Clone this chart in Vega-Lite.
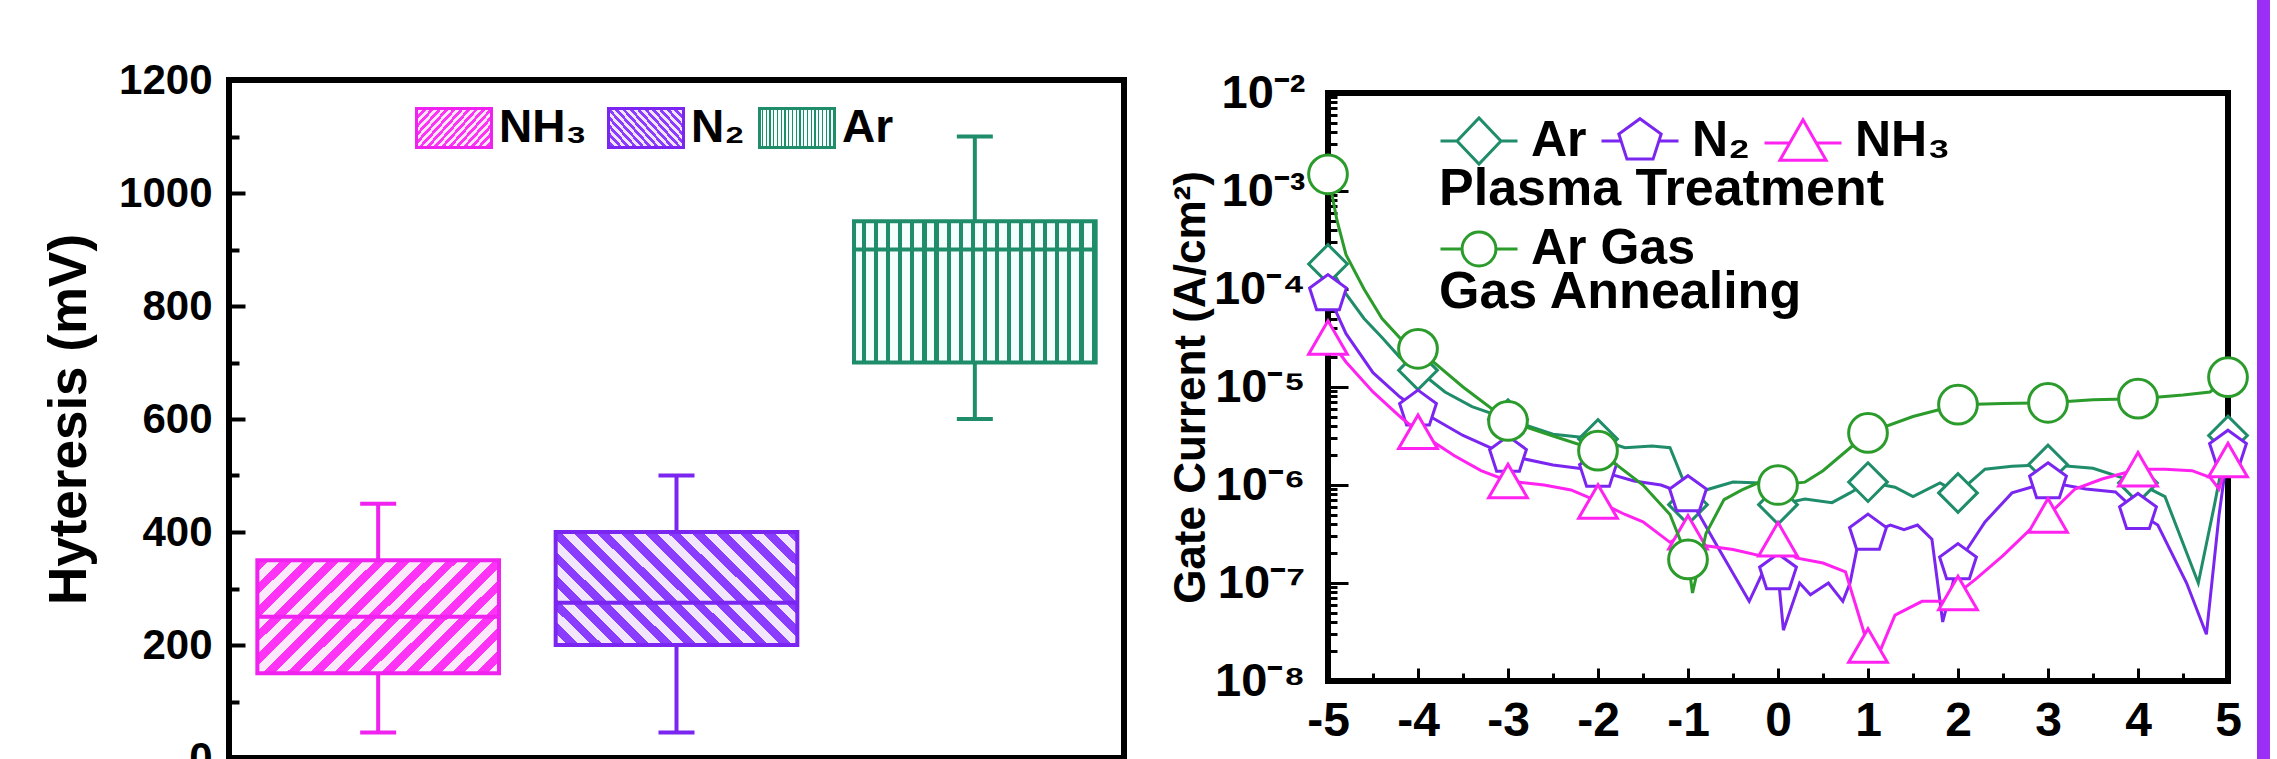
{
  "$schema": "https://vega.github.io/schema/vega-lite/v6.json",
  "padding": {"left": 40, "top": 0, "right": 0, "bottom": 0},
  "config": {
    "font": "Liberation Sans",
    "view": {"stroke": "black", "strokeWidth": 6},
    "axis": {"domain": false, "grid": false, "labelColor": "black", "titleColor": "black", "tickColor": "black", "labelFontWeight": "bold", "titleFontWeight": "bold"},
    "legend": {"labelColor": "black", "labelFontWeight": "bold", "titleColor": "black", "titleFontWeight": "bold", "labelLimit": 600, "titleLimit": 1000}
  },
  "datasets": {
    "boxes": [
      {"group": "NH3", "lo": 45, "q1": 150, "med": 250, "q3": 350, "hi": 450},
      {"group": "N2", "lo": 45, "q1": 200, "med": 275, "q3": 400, "hi": 500},
      {"group": "Ar", "lo": 600, "q1": 700, "med": 900, "q3": 950, "hi": 1100}
    ],
    "iv": [
      {"s": "Ar", "v": -5, "c": 1.8e-4}, {"s": "Ar", "v": -4.8, "c": 8.9e-5}, {"s": "Ar", "v": -4.6, "c": 5.0e-5}, {"s": "Ar", "v": -4.4, "c": 3.2e-5}, {"s": "Ar", "v": -4.2, "c": 2.0e-5}, {"s": "Ar", "v": -4, "c": 1.48e-5}, {"s": "Ar", "v": -3.7, "c": 8.9e-6}, {"s": "Ar", "v": -3.4, "c": 6.3e-6}, {"s": "Ar", "v": -3, "c": 4.7e-6}, {"s": "Ar", "v": -2.5, "c": 3.3e-6}, {"s": "Ar", "v": -2, "c": 2.95e-6}, {"s": "Ar", "v": -1.7, "c": 2.4e-6}, {"s": "Ar", "v": -1.4, "c": 2.5e-6}, {"s": "Ar", "v": -1.2, "c": 2.4e-6}, {"s": "Ar", "v": -1.05, "c": 1.1e-6}, {"s": "Ar", "v": -1, "c": 6.3e-7}, {"s": "Ar", "v": -0.8, "c": 8.9e-7}, {"s": "Ar", "v": -0.5, "c": 1.07e-6}, {"s": "Ar", "v": -0.2, "c": 1.05e-6}, {"s": "Ar", "v": 0, "c": 6.3e-7}, {"s": "Ar", "v": 0.3, "c": 7.2e-7}, {"s": "Ar", "v": 0.6, "c": 6.6e-7}, {"s": "Ar", "v": 0.8, "c": 8.3e-7}, {"s": "Ar", "v": 1, "c": 1.07e-6}, {"s": "Ar", "v": 1.3, "c": 9.5e-7}, {"s": "Ar", "v": 1.5, "c": 7.6e-7}, {"s": "Ar", "v": 1.8, "c": 1.05e-6}, {"s": "Ar", "v": 2, "c": 8.3e-7}, {"s": "Ar", "v": 2.3, "c": 1.45e-6}, {"s": "Ar", "v": 2.6, "c": 1.55e-6}, {"s": "Ar", "v": 3, "c": 1.62e-6}, {"s": "Ar", "v": 3.5, "c": 1.48e-6}, {"s": "Ar", "v": 4, "c": 1.05e-6}, {"s": "Ar", "v": 4.3, "c": 7.6e-7}, {"s": "Ar", "v": 4.67, "c": 1.0e-7}, {"s": "Ar", "v": 4.85, "c": 6.3e-7}, {"s": "Ar", "v": 5, "c": 3.2e-6},
      {"s": "N2", "v": -5, "c": 8.9e-5}, {"s": "N2", "v": -4.8, "c": 3.5e-5}, {"s": "N2", "v": -4.5, "c": 1.4e-5}, {"s": "N2", "v": -4.2, "c": 7.9e-6}, {"s": "N2", "v": -4, "c": 5.9e-6}, {"s": "N2", "v": -3.5, "c": 3.2e-6}, {"s": "N2", "v": -3, "c": 2.0e-6}, {"s": "N2", "v": -2.5, "c": 1.6e-6}, {"s": "N2", "v": -2, "c": 1.4e-6}, {"s": "N2", "v": -1.6, "c": 1.1e-6}, {"s": "N2", "v": -1.3, "c": 1.0e-6}, {"s": "N2", "v": -1, "c": 7.9e-7}, {"s": "N2", "v": -0.7, "c": 2.6e-7}, {"s": "N2", "v": -0.32, "c": 6.5e-8}, {"s": "N2", "v": -0.15, "c": 1.4e-7}, {"s": "N2", "v": 0, "c": 1.26e-7}, {"s": "N2", "v": 0.06, "c": 3.3e-8}, {"s": "N2", "v": 0.24, "c": 1.0e-7}, {"s": "N2", "v": 0.36, "c": 7.6e-8}, {"s": "N2", "v": 0.56, "c": 1.0e-7}, {"s": "N2", "v": 0.72, "c": 6.5e-8}, {"s": "N2", "v": 0.8, "c": 1.0e-7}, {"s": "N2", "v": 0.92, "c": 3.5e-7}, {"s": "N2", "v": 1, "c": 3.2e-7}, {"s": "N2", "v": 1.25, "c": 3.9e-7}, {"s": "N2", "v": 1.4, "c": 3.5e-7}, {"s": "N2", "v": 1.55, "c": 3.9e-7}, {"s": "N2", "v": 1.71, "c": 2.8e-7}, {"s": "N2", "v": 1.83, "c": 4.0e-8}, {"s": "N2", "v": 2, "c": 1.6e-7}, {"s": "N2", "v": 2.3, "c": 4.2e-7}, {"s": "N2", "v": 2.6, "c": 8.3e-7}, {"s": "N2", "v": 3, "c": 1.07e-6}, {"s": "N2", "v": 3.42, "c": 9.1e-7}, {"s": "N2", "v": 3.75, "c": 8.5e-7}, {"s": "N2", "v": 4, "c": 5.2e-7}, {"s": "N2", "v": 4.22, "c": 3.9e-7}, {"s": "N2", "v": 4.54, "c": 1.0e-7}, {"s": "N2", "v": 4.76, "c": 3.0e-8}, {"s": "N2", "v": 4.9, "c": 4.9e-7}, {"s": "N2", "v": 5, "c": 2.3e-6},
      {"s": "NH3", "v": -5, "c": 3.2e-5}, {"s": "NH3", "v": -4.8, "c": 1.8e-5}, {"s": "NH3", "v": -4.5, "c": 8.9e-6}, {"s": "NH3", "v": -4.2, "c": 5.0e-6}, {"s": "NH3", "v": -4, "c": 3.5e-6}, {"s": "NH3", "v": -3.6, "c": 2.0e-6}, {"s": "NH3", "v": -3.3, "c": 1.4e-6}, {"s": "NH3", "v": -3, "c": 1.1e-6}, {"s": "NH3", "v": -2.6, "c": 1.0e-6}, {"s": "NH3", "v": -2.3, "c": 8.9e-7}, {"s": "NH3", "v": -2, "c": 6.8e-7}, {"s": "NH3", "v": -1.7, "c": 5.0e-7}, {"s": "NH3", "v": -1.5, "c": 4.2e-7}, {"s": "NH3", "v": -1.2, "c": 2.6e-7}, {"s": "NH3", "v": -1, "c": 3.3e-7}, {"s": "NH3", "v": -0.8, "c": 2.4e-7}, {"s": "NH3", "v": -0.5, "c": 2.2e-7}, {"s": "NH3", "v": -0.2, "c": 1.9e-7}, {"s": "NH3", "v": 0, "c": 2.8e-7}, {"s": "NH3", "v": 0.2, "c": 1.8e-7}, {"s": "NH3", "v": 0.5, "c": 1.6e-7}, {"s": "NH3", "v": 0.75, "c": 1.3e-7}, {"s": "NH3", "v": 1, "c": 2.3e-8}, {"s": "NH3", "v": 1.1, "c": 1.7e-8}, {"s": "NH3", "v": 1.3, "c": 4.7e-8}, {"s": "NH3", "v": 1.6, "c": 6.5e-8}, {"s": "NH3", "v": 1.9, "c": 6.5e-8}, {"s": "NH3", "v": 2, "c": 7.9e-8}, {"s": "NH3", "v": 2.2, "c": 1.1e-7}, {"s": "NH3", "v": 2.5, "c": 1.9e-7}, {"s": "NH3", "v": 2.8, "c": 3.5e-7}, {"s": "NH3", "v": 3, "c": 4.9e-7}, {"s": "NH3", "v": 3.3, "c": 9.1e-7}, {"s": "NH3", "v": 3.6, "c": 1.15e-6}, {"s": "NH3", "v": 4, "c": 1.45e-6}, {"s": "NH3", "v": 4.3, "c": 1.45e-6}, {"s": "NH3", "v": 4.6, "c": 1.4e-6}, {"s": "NH3", "v": 4.8, "c": 1.2e-6}, {"s": "NH3", "v": 4.9, "c": 9.1e-7}, {"s": "NH3", "v": 5, "c": 1.8e-6},
      {"s": "Ar Gas", "v": -5, "c": 1.48e-3}, {"s": "Ar Gas", "v": -4.9, "c": 5.0e-4}, {"s": "Ar Gas", "v": -4.8, "c": 2.24e-4}, {"s": "Ar Gas", "v": -4.6, "c": 1.0e-4}, {"s": "Ar Gas", "v": -4.4, "c": 5.0e-5}, {"s": "Ar Gas", "v": -4.2, "c": 3.16e-5}, {"s": "Ar Gas", "v": -4, "c": 2.45e-5}, {"s": "Ar Gas", "v": -3.5, "c": 1.0e-5}, {"s": "Ar Gas", "v": -3, "c": 4.5e-6}, {"s": "Ar Gas", "v": -2.5, "c": 3.16e-6}, {"s": "Ar Gas", "v": -2, "c": 2.24e-6}, {"s": "Ar Gas", "v": -1.5, "c": 1.0e-6}, {"s": "Ar Gas", "v": -1.2, "c": 5.0e-7}, {"s": "Ar Gas", "v": -1, "c": 1.74e-7}, {"s": "Ar Gas", "v": -0.95, "c": 7.9e-8}, {"s": "Ar Gas", "v": -0.8, "c": 3.2e-7}, {"s": "Ar Gas", "v": -0.6, "c": 7.1e-7}, {"s": "Ar Gas", "v": -0.4, "c": 8.9e-7}, {"s": "Ar Gas", "v": -0.2, "c": 1.07e-6}, {"s": "Ar Gas", "v": 0, "c": 1.0e-6}, {"s": "Ar Gas", "v": 0.3, "c": 1.07e-6}, {"s": "Ar Gas", "v": 0.5, "c": 1.4e-6}, {"s": "Ar Gas", "v": 0.7, "c": 2.0e-6}, {"s": "Ar Gas", "v": 1, "c": 3.4e-6}, {"s": "Ar Gas", "v": 1.5, "c": 5.0e-6}, {"s": "Ar Gas", "v": 2, "c": 6.6e-6}, {"s": "Ar Gas", "v": 2.5, "c": 6.8e-6}, {"s": "Ar Gas", "v": 3, "c": 6.9e-6}, {"s": "Ar Gas", "v": 3.5, "c": 7.4e-6}, {"s": "Ar Gas", "v": 4, "c": 7.6e-6}, {"s": "Ar Gas", "v": 4.5, "c": 8.3e-6}, {"s": "Ar Gas", "v": 4.8, "c": 8.9e-6}, {"s": "Ar Gas", "v": 5, "c": 1.26e-5}
    ]
  },
  "spacing": 0,
  "hconcat": [
    {
      "spacing": 39,
      "hconcat": [
        {
          "spacing": 55,
          "vconcat": [
            {"width": 1, "height": 1, "view": {"stroke": null}, "data": {"values": [{"k": 1}]}, "mark": {"type": "rect", "opacity": 0}, "encoding": {}},
            {
              "width": 895,
              "height": 678,
              "data": {"name": "boxes"},
              "encoding": {
                "x": {"field": "group", "type": "nominal", "scale": {"domain": ["NH3", "N2", "Ar"], "paddingInner": 0, "paddingOuter": 0}, "axis": null}
              },
              "layer": [
                {
                  "mark": {"type": "rule", "strokeWidth": 4},
                  "encoding": {
                    "y": {"field": "lo", "type": "quantitative", "scale": {"domain": [0, 1200], "nice": false},
                      "axis": {
                        "values": [0, 100, 200, 300, 400, 500, 600, 700, 800, 900, 1000, 1100, 1200],
                        "labelExpr": "datum.value % 200 == 0 ? datum.label : ''",
                        "format": "d",
                        "tickSize": {"condition": {"test": "datum.value % 200 == 0", "value": -16}, "value": -10},
                        "tickWidth": 4,
                        "labelPadding": 33,
                        "labelFontSize": 42,
                        "labelOverlap": false,
                        "title": "Hyteresis  (mV)",
                        "titleFontSize": 53,
                        "titlePadding": 22
                      }},
                    "y2": {"field": "hi"},
                    "color": {"field": "group", "type": "nominal", "scale": {"domain": ["NH3", "N2", "Ar"], "range": ["#f022f0", "#7a26f0", "#1f8c6a"]}, "legend": null}
                  }
                },
                {
                  "transform": [{"filter": "datum.group == 'NH3'"}],
                  "mark": {"type": "bar", "width": {"band": 0.81}, "strokeWidth": 4,
                    "fill": {"gradient": "linear", "x1": 0, "y1": 0, "x2": 1.204, "y2": 0.567, "stops": [
                      {"offset": 0, "color": "#ff33f5"}, {"offset": 0.0333, "color": "#ff33f5"}, {"offset": 0.0333, "color": "#fbe8fb"}, {"offset": 0.0667, "color": "#fbe8fb"},
                      {"offset": 0.0667, "color": "#ff33f5"}, {"offset": 0.1, "color": "#ff33f5"}, {"offset": 0.1, "color": "#fbe8fb"}, {"offset": 0.1333, "color": "#fbe8fb"},
                      {"offset": 0.1333, "color": "#ff33f5"}, {"offset": 0.1667, "color": "#ff33f5"}, {"offset": 0.1667, "color": "#fbe8fb"}, {"offset": 0.2, "color": "#fbe8fb"},
                      {"offset": 0.2, "color": "#ff33f5"}, {"offset": 0.2333, "color": "#ff33f5"}, {"offset": 0.2333, "color": "#fbe8fb"}, {"offset": 0.2667, "color": "#fbe8fb"},
                      {"offset": 0.2667, "color": "#ff33f5"}, {"offset": 0.3, "color": "#ff33f5"}, {"offset": 0.3, "color": "#fbe8fb"}, {"offset": 0.3333, "color": "#fbe8fb"},
                      {"offset": 0.3333, "color": "#ff33f5"}, {"offset": 0.3667, "color": "#ff33f5"}, {"offset": 0.3667, "color": "#fbe8fb"}, {"offset": 0.4, "color": "#fbe8fb"},
                      {"offset": 0.4, "color": "#ff33f5"}, {"offset": 0.4333, "color": "#ff33f5"}, {"offset": 0.4333, "color": "#fbe8fb"}, {"offset": 0.4667, "color": "#fbe8fb"},
                      {"offset": 0.4667, "color": "#ff33f5"}, {"offset": 0.5, "color": "#ff33f5"}, {"offset": 0.5, "color": "#fbe8fb"}, {"offset": 0.5333, "color": "#fbe8fb"},
                      {"offset": 0.5333, "color": "#ff33f5"}, {"offset": 0.5667, "color": "#ff33f5"}, {"offset": 0.5667, "color": "#fbe8fb"}, {"offset": 0.6, "color": "#fbe8fb"},
                      {"offset": 0.6, "color": "#ff33f5"}, {"offset": 0.6333, "color": "#ff33f5"}, {"offset": 0.6333, "color": "#fbe8fb"}, {"offset": 0.6667, "color": "#fbe8fb"},
                      {"offset": 0.6667, "color": "#ff33f5"}, {"offset": 0.7, "color": "#ff33f5"}, {"offset": 0.7, "color": "#fbe8fb"}, {"offset": 0.7333, "color": "#fbe8fb"},
                      {"offset": 0.7333, "color": "#ff33f5"}, {"offset": 0.7667, "color": "#ff33f5"}, {"offset": 0.7667, "color": "#fbe8fb"}, {"offset": 0.8, "color": "#fbe8fb"},
                      {"offset": 0.8, "color": "#ff33f5"}, {"offset": 0.8333, "color": "#ff33f5"}, {"offset": 0.8333, "color": "#fbe8fb"}, {"offset": 0.8667, "color": "#fbe8fb"},
                      {"offset": 0.8667, "color": "#ff33f5"}, {"offset": 0.9, "color": "#ff33f5"}, {"offset": 0.9, "color": "#fbe8fb"}, {"offset": 0.9333, "color": "#fbe8fb"},
                      {"offset": 0.9333, "color": "#ff33f5"}, {"offset": 0.9667, "color": "#ff33f5"}, {"offset": 0.9667, "color": "#fbe8fb"}, {"offset": 1, "color": "#fbe8fb"}
                    ]}},
                  "encoding": {
                    "y": {"field": "q1", "type": "quantitative"},
                    "y2": {"field": "q3"},
                    "stroke": {"field": "group", "type": "nominal", "scale": {"domain": ["NH3"], "range": ["#f022f0"]},
                      "legend": {"orient": "none", "legendX": 186, "legendY": 9, "title": null,
                        "symbolType": "M-1,-0.52H1V0.52H-1Z", "symbolSize": 5625, "symbolStrokeWidth": 3, "symbolOpacity": 1,
                        "labelFontSize": 46, "labelOffset": 6,
                        "labelExpr": "'NH₃'"}}
                  }
                },
                {
                  "transform": [{"filter": "datum.group == 'N2'"}],
                  "mark": {"type": "bar", "width": {"band": 0.81}, "strokeWidth": 4,
                    "fill": {"gradient": "linear", "x1": 1, "y1": 0, "x2": -0.204, "y2": 0.567, "stops": [
                      {"offset": 0, "color": "#8a3cff"}, {"offset": 0.0333, "color": "#8a3cff"}, {"offset": 0.0333, "color": "#f1e6fb"}, {"offset": 0.0667, "color": "#f1e6fb"},
                      {"offset": 0.0667, "color": "#8a3cff"}, {"offset": 0.1, "color": "#8a3cff"}, {"offset": 0.1, "color": "#f1e6fb"}, {"offset": 0.1333, "color": "#f1e6fb"},
                      {"offset": 0.1333, "color": "#8a3cff"}, {"offset": 0.1667, "color": "#8a3cff"}, {"offset": 0.1667, "color": "#f1e6fb"}, {"offset": 0.2, "color": "#f1e6fb"},
                      {"offset": 0.2, "color": "#8a3cff"}, {"offset": 0.2333, "color": "#8a3cff"}, {"offset": 0.2333, "color": "#f1e6fb"}, {"offset": 0.2667, "color": "#f1e6fb"},
                      {"offset": 0.2667, "color": "#8a3cff"}, {"offset": 0.3, "color": "#8a3cff"}, {"offset": 0.3, "color": "#f1e6fb"}, {"offset": 0.3333, "color": "#f1e6fb"},
                      {"offset": 0.3333, "color": "#8a3cff"}, {"offset": 0.3667, "color": "#8a3cff"}, {"offset": 0.3667, "color": "#f1e6fb"}, {"offset": 0.4, "color": "#f1e6fb"},
                      {"offset": 0.4, "color": "#8a3cff"}, {"offset": 0.4333, "color": "#8a3cff"}, {"offset": 0.4333, "color": "#f1e6fb"}, {"offset": 0.4667, "color": "#f1e6fb"},
                      {"offset": 0.4667, "color": "#8a3cff"}, {"offset": 0.5, "color": "#8a3cff"}, {"offset": 0.5, "color": "#f1e6fb"}, {"offset": 0.5333, "color": "#f1e6fb"},
                      {"offset": 0.5333, "color": "#8a3cff"}, {"offset": 0.5667, "color": "#8a3cff"}, {"offset": 0.5667, "color": "#f1e6fb"}, {"offset": 0.6, "color": "#f1e6fb"},
                      {"offset": 0.6, "color": "#8a3cff"}, {"offset": 0.6333, "color": "#8a3cff"}, {"offset": 0.6333, "color": "#f1e6fb"}, {"offset": 0.6667, "color": "#f1e6fb"},
                      {"offset": 0.6667, "color": "#8a3cff"}, {"offset": 0.7, "color": "#8a3cff"}, {"offset": 0.7, "color": "#f1e6fb"}, {"offset": 0.7333, "color": "#f1e6fb"},
                      {"offset": 0.7333, "color": "#8a3cff"}, {"offset": 0.7667, "color": "#8a3cff"}, {"offset": 0.7667, "color": "#f1e6fb"}, {"offset": 0.8, "color": "#f1e6fb"},
                      {"offset": 0.8, "color": "#8a3cff"}, {"offset": 0.8333, "color": "#8a3cff"}, {"offset": 0.8333, "color": "#f1e6fb"}, {"offset": 0.8667, "color": "#f1e6fb"},
                      {"offset": 0.8667, "color": "#8a3cff"}, {"offset": 0.9, "color": "#8a3cff"}, {"offset": 0.9, "color": "#f1e6fb"}, {"offset": 0.9333, "color": "#f1e6fb"},
                      {"offset": 0.9333, "color": "#8a3cff"}, {"offset": 0.9667, "color": "#8a3cff"}, {"offset": 0.9667, "color": "#f1e6fb"}, {"offset": 1, "color": "#f1e6fb"}
                    ]}},
                  "encoding": {
                    "y": {"field": "q1", "type": "quantitative"},
                    "y2": {"field": "q3"},
                    "stroke": {"field": "group", "type": "nominal", "scale": {"domain": ["N2"], "range": ["#7a26f0"]},
                      "legend": {"orient": "none", "legendX": 378, "legendY": 9, "title": null,
                        "symbolType": "M-1,-0.52H1V0.52H-1Z", "symbolSize": 5625, "symbolStrokeWidth": 3, "symbolOpacity": 1,
                        "labelFontSize": 46, "labelOffset": 6,
                        "labelExpr": "'N₂'"}}
                  }
                },
                {
                  "transform": [{"filter": "datum.group == 'Ar'"}],
                  "mark": {"type": "bar", "width": {"band": 0.81}, "strokeWidth": 4,
                    "fill": {"gradient": "linear", "x1": 0, "y1": 0, "x2": 1, "y2": 0, "stops": [
                      {"offset": 0, "color": "#f4fffb"}, {"offset": 0.033, "color": "#f4fffb"}, {"offset": 0.033, "color": "#1f8c6a"}, {"offset": 0.05, "color": "#1f8c6a"},
                      {"offset": 0.05, "color": "#f4fffb"}, {"offset": 0.083, "color": "#f4fffb"}, {"offset": 0.083, "color": "#1f8c6a"}, {"offset": 0.1, "color": "#1f8c6a"},
                      {"offset": 0.1, "color": "#f4fffb"}, {"offset": 0.133, "color": "#f4fffb"}, {"offset": 0.133, "color": "#1f8c6a"}, {"offset": 0.15, "color": "#1f8c6a"},
                      {"offset": 0.15, "color": "#f4fffb"}, {"offset": 0.183, "color": "#f4fffb"}, {"offset": 0.183, "color": "#1f8c6a"}, {"offset": 0.2, "color": "#1f8c6a"},
                      {"offset": 0.2, "color": "#f4fffb"}, {"offset": 0.233, "color": "#f4fffb"}, {"offset": 0.233, "color": "#1f8c6a"}, {"offset": 0.25, "color": "#1f8c6a"},
                      {"offset": 0.25, "color": "#f4fffb"}, {"offset": 0.283, "color": "#f4fffb"}, {"offset": 0.283, "color": "#1f8c6a"}, {"offset": 0.3, "color": "#1f8c6a"},
                      {"offset": 0.3, "color": "#f4fffb"}, {"offset": 0.333, "color": "#f4fffb"}, {"offset": 0.333, "color": "#1f8c6a"}, {"offset": 0.35, "color": "#1f8c6a"},
                      {"offset": 0.35, "color": "#f4fffb"}, {"offset": 0.383, "color": "#f4fffb"}, {"offset": 0.383, "color": "#1f8c6a"}, {"offset": 0.4, "color": "#1f8c6a"},
                      {"offset": 0.4, "color": "#f4fffb"}, {"offset": 0.433, "color": "#f4fffb"}, {"offset": 0.433, "color": "#1f8c6a"}, {"offset": 0.45, "color": "#1f8c6a"},
                      {"offset": 0.45, "color": "#f4fffb"}, {"offset": 0.483, "color": "#f4fffb"}, {"offset": 0.483, "color": "#1f8c6a"}, {"offset": 0.5, "color": "#1f8c6a"},
                      {"offset": 0.5, "color": "#f4fffb"}, {"offset": 0.533, "color": "#f4fffb"}, {"offset": 0.533, "color": "#1f8c6a"}, {"offset": 0.55, "color": "#1f8c6a"},
                      {"offset": 0.55, "color": "#f4fffb"}, {"offset": 0.583, "color": "#f4fffb"}, {"offset": 0.583, "color": "#1f8c6a"}, {"offset": 0.6, "color": "#1f8c6a"},
                      {"offset": 0.6, "color": "#f4fffb"}, {"offset": 0.633, "color": "#f4fffb"}, {"offset": 0.633, "color": "#1f8c6a"}, {"offset": 0.65, "color": "#1f8c6a"},
                      {"offset": 0.65, "color": "#f4fffb"}, {"offset": 0.683, "color": "#f4fffb"}, {"offset": 0.683, "color": "#1f8c6a"}, {"offset": 0.7, "color": "#1f8c6a"},
                      {"offset": 0.7, "color": "#f4fffb"}, {"offset": 0.733, "color": "#f4fffb"}, {"offset": 0.733, "color": "#1f8c6a"}, {"offset": 0.75, "color": "#1f8c6a"},
                      {"offset": 0.75, "color": "#f4fffb"}, {"offset": 0.783, "color": "#f4fffb"}, {"offset": 0.783, "color": "#1f8c6a"}, {"offset": 0.8, "color": "#1f8c6a"},
                      {"offset": 0.8, "color": "#f4fffb"}, {"offset": 0.833, "color": "#f4fffb"}, {"offset": 0.833, "color": "#1f8c6a"}, {"offset": 0.85, "color": "#1f8c6a"},
                      {"offset": 0.85, "color": "#f4fffb"}, {"offset": 0.883, "color": "#f4fffb"}, {"offset": 0.883, "color": "#1f8c6a"}, {"offset": 0.9, "color": "#1f8c6a"},
                      {"offset": 0.9, "color": "#f4fffb"}, {"offset": 0.933, "color": "#f4fffb"}, {"offset": 0.933, "color": "#1f8c6a"}, {"offset": 0.95, "color": "#1f8c6a"},
                      {"offset": 0.95, "color": "#f4fffb"}, {"offset": 0.983, "color": "#f4fffb"}, {"offset": 0.983, "color": "#1f8c6a"}, {"offset": 1, "color": "#1f8c6a"}
                    ]}},
                  "encoding": {
                    "y": {"field": "q1", "type": "quantitative"},
                    "y2": {"field": "q3"},
                    "stroke": {"field": "group", "type": "nominal", "scale": {"domain": ["Ar"], "range": ["#1f8c6a"]},
                      "legend": {"orient": "none", "legendX": 529, "legendY": 9, "title": null,
                        "symbolType": "M-1,-0.52H1V0.52H-1Z", "symbolSize": 5625, "symbolStrokeWidth": 3, "symbolOpacity": 1,
                        "labelFontSize": 46, "labelOffset": 6}}
                  }
                },
                {
                  "mark": {"type": "tick", "size": 241, "thickness": 4, "opacity": 1},
                  "encoding": {
                    "y": {"field": "med", "type": "quantitative"},
                    "color": {"field": "group", "type": "nominal", "scale": {"domain": ["NH3", "N2", "Ar"], "range": ["#f022f0", "#7a26f0", "#1f8c6a"]}, "legend": null}
                  }
                },
                {
                  "mark": {"type": "tick", "size": 36, "thickness": 4, "opacity": 1},
                  "encoding": {
                    "y": {"field": "hi", "type": "quantitative"},
                    "color": {"field": "group", "type": "nominal", "scale": {"domain": ["NH3", "N2", "Ar"], "range": ["#f022f0", "#7a26f0", "#1f8c6a"]}, "legend": null}
                  }
                },
                {
                  "mark": {"type": "tick", "size": 36, "thickness": 4, "opacity": 1},
                  "encoding": {
                    "y": {"field": "lo", "type": "quantitative"},
                    "color": {"field": "group", "type": "nominal", "scale": {"domain": ["NH3", "N2", "Ar"], "range": ["#f022f0", "#7a26f0", "#1f8c6a"]}, "legend": null}
                  }
                }
              ],
              "resolve": {"scale": {"stroke": "independent"}}
            }
          ]
        },
        {
          "spacing": 65,
          "vconcat": [
            {"width": 1, "height": 1, "view": {"stroke": null}, "data": {"values": [{"k": 1}]}, "mark": {"type": "rect", "opacity": 0}, "encoding": {}},
            {
              "width": 900,
              "height": 588,
              "data": {"name": "iv"},
              "encoding": {
                "x": {"field": "v", "type": "quantitative", "scale": {"domain": [-5, 5], "nice": false},
                  "axis": {
                    "values": [-5, -4.5, -4, -3.5, -3, -2.5, -2, -1.5, -1, -0.5, 0, 0.5, 1, 1.5, 2, 2.5, 3, 3.5, 4, 4.5, 5],
                    "labelExpr": "datum.value == round(datum.value) ? (datum.value < 0 ? '-' + abs(datum.value) : '' + datum.value) : ''",
                    "tickSize": {"condition": {"test": "datum.value == round(datum.value)", "value": -13}, "value": -8},
                    "tickWidth": 3,
                    "labelPadding": 29,
                    "labelFontSize": 48,
                    "labelFlush": false,
                    "labelOverlap": false,
                    "title": "Gate Voltage (V)",
                    "titleFontSize": 46,
                    "titlePadding": 10
                  }},
                "y": {"field": "c", "type": "quantitative", "scale": {"type": "log", "domain": [1e-8, 1e-2], "nice": false},
                  "axis": {
                    "values": [1e-8, 2e-8, 3e-8, 4e-8, 5e-8, 6e-8, 7e-8, 8e-8, 9e-8, 1e-7, 2e-7, 3e-7, 4e-7, 5e-7, 6e-7, 7e-7, 8e-7, 9e-7, 1e-6, 2e-6, 3e-6, 4e-6, 5e-6, 6e-6, 7e-6, 8e-6, 9e-6, 1e-5, 2e-5, 3e-5, 4e-5, 5e-5, 6e-5, 7e-5, 8e-5, 9e-5, 1e-4, 2e-4, 3e-4, 4e-4, 5e-4, 6e-4, 7e-4, 8e-4, 9e-4, 1e-3, 2e-3, 3e-3, 4e-3, 5e-3, 6e-3, 7e-3, 8e-3, 9e-3, 1e-2],
                    "labelExpr": "abs(log(datum.value)/LN10 - round(log(datum.value)/LN10)) > 0.01 ? '' : '10⁻' + ['⁰','¹','²','³','⁴','⁵','⁶','⁷','⁸','⁹'][-round(log(datum.value)/LN10)]",
                    "tickSize": {"condition": {"test": "abs(log(datum.value)/LN10 - round(log(datum.value)/LN10)) < 0.01", "value": -20}, "value": -9},
                    "tickWidth": 3,
                    "labelPadding": 43,
                    "labelFontSize": 47,
                    "labelOverlap": false,
                    "labelBound": false,
                    "title": "Gate Current (A/cm²)",
                    "titleFontSize": 44,
                    "titlePadding": 0
                  }}
              },
              "layer": [
                {
                  "transform": [{"filter": "datum.s == 'Ar'"}],
                  "layer": [
                    {
                      "mark": {"type": "line", "strokeWidth": 3},
                      "encoding": {
                        "color": {"field": "s", "type": "nominal", "scale": {"domain": ["Ar"], "range": ["#1f8c6a"]},
                          "legend": {"orient": "none", "legendX": 111, "legendY": 8,
                            "title": "Plasma Treatment", "titleOrient": "bottom", "titleAnchor": "start", "titleAlign": "left", "titleFontSize": 52, "titlePadding": -6,
                            "labelFontSize": 50, "labelOffset": 12,
                            "symbolType": "M-1,0H-0.57M0.57,0H1M-0.57,0L0,-0.6L0.57,0L0,0.6Z", "symbolSize": 5929, "symbolStrokeWidth": 3, "symbolFillColor": "white", "symbolOpacity": 1}}
                      }
                    },
                    {
                      "transform": [{"filter": "datum.v == round(datum.v)"}],
                      "mark": {"type": "point", "shape": "diamond", "filled": false, "fill": "white", "strokeWidth": 3, "size": 1500, "opacity": 1},
                      "encoding": {"color": {"field": "s", "type": "nominal", "scale": {"domain": ["Ar"], "range": ["#1f8c6a"]}}}
                    }
                  ]
                },
                {
                  "transform": [{"filter": "datum.s == 'N2'"}],
                  "layer": [
                    {
                      "mark": {"type": "line", "strokeWidth": 3},
                      "encoding": {
                        "color": {"field": "s", "type": "nominal", "scale": {"domain": ["N2"], "range": ["#7a26f0"]},
                          "legend": {"orient": "none", "legendX": 272, "legendY": 8, "title": null,
                            "labelFontSize": 50, "labelOffset": 12, "labelExpr": "'N₂'",
                            "symbolType": "M-1,0H-0.5M0.5,0H1M0,-0.58L0.55,-0.18L0.34,0.47L-0.34,0.47L-0.55,-0.18Z", "symbolSize": 5929, "symbolStrokeWidth": 3, "symbolFillColor": "white", "symbolOpacity": 1}}
                      }
                    },
                    {
                      "transform": [{"filter": "datum.v == round(datum.v)"}],
                      "mark": {"type": "point", "shape": "M0,-1L0.951,-0.309L0.588,0.809L-0.588,0.809L-0.951,-0.309Z", "filled": false, "fill": "white", "strokeWidth": 3, "size": 1500, "opacity": 1},
                      "encoding": {"color": {"field": "s", "type": "nominal", "scale": {"domain": ["N2"], "range": ["#7a26f0"]}}}
                    }
                  ]
                },
                {
                  "transform": [{"filter": "datum.s == 'NH3'"}],
                  "layer": [
                    {
                      "mark": {"type": "line", "strokeWidth": 3},
                      "encoding": {
                        "color": {"field": "s", "type": "nominal", "scale": {"domain": ["NH3"], "range": ["#ff22f0"]},
                          "legend": {"orient": "none", "legendX": 435, "legendY": 8, "title": null,
                            "labelFontSize": 50, "labelOffset": 12, "labelExpr": "'NH₃'",
                            "symbolType": "M-1,0.05H-0.33M0.33,0.05H1M0,-0.55L0.6,0.5L-0.6,0.5Z", "symbolSize": 5929, "symbolStrokeWidth": 3, "symbolFillColor": "white", "symbolOpacity": 1}}
                      }
                    },
                    {
                      "transform": [{"filter": "datum.v == round(datum.v)"}],
                      "mark": {"type": "point", "shape": "triangle-up", "filled": false, "fill": "white", "strokeWidth": 3, "size": 1500, "opacity": 1},
                      "encoding": {"color": {"field": "s", "type": "nominal", "scale": {"domain": ["NH3"], "range": ["#ff22f0"]}}}
                    }
                  ]
                },
                {
                  "transform": [{"filter": "datum.s == 'Ar Gas'"}],
                  "layer": [
                    {
                      "mark": {"type": "line", "strokeWidth": 3},
                      "encoding": {
                        "color": {"field": "s", "type": "nominal", "scale": {"domain": ["Ar Gas"], "range": ["#2b9b2b"]},
                          "legend": {"orient": "none", "legendX": 111, "legendY": 116,
                            "title": "Gas Annealing", "titleOrient": "bottom", "titleAnchor": "start", "titleAlign": "left", "titleFontSize": 52, "titlePadding": -7,
                            "labelFontSize": 50, "labelOffset": 12,
                            "symbolType": "M-1,0H-0.44M0.44,0H1M-0.44,0A0.44,0.44,0,1,0,0.44,0A0.44,0.44,0,1,0,-0.44,0Z", "symbolSize": 5929, "symbolStrokeWidth": 3, "symbolFillColor": "white", "symbolOpacity": 1}}
                      }
                    },
                    {
                      "transform": [{"filter": "datum.v == round(datum.v)"}],
                      "mark": {"type": "point", "shape": "circle", "filled": false, "fill": "white", "strokeWidth": 3, "size": 1500, "opacity": 1},
                      "encoding": {"color": {"field": "s", "type": "nominal", "scale": {"domain": ["Ar Gas"], "range": ["#2b9b2b"]}}}
                    }
                  ]
                }
              ],
              "resolve": {"scale": {"color": "independent"}}
            }
          ]
        }
      ]
    },
    {
      "width": 13,
      "height": 800,
      "view": {"fill": "#9b2ff5", "stroke": null},
      "data": {"values": [{"k": 1}]},
      "mark": {"type": "rect", "color": "#9b2ff5", "opacity": 1},
      "encoding": {
        "x": {"value": 0},
        "x2": {"value": "width"},
        "y": {"value": 0},
        "y2": {"value": "height"}
      }
    }
  ]
}
